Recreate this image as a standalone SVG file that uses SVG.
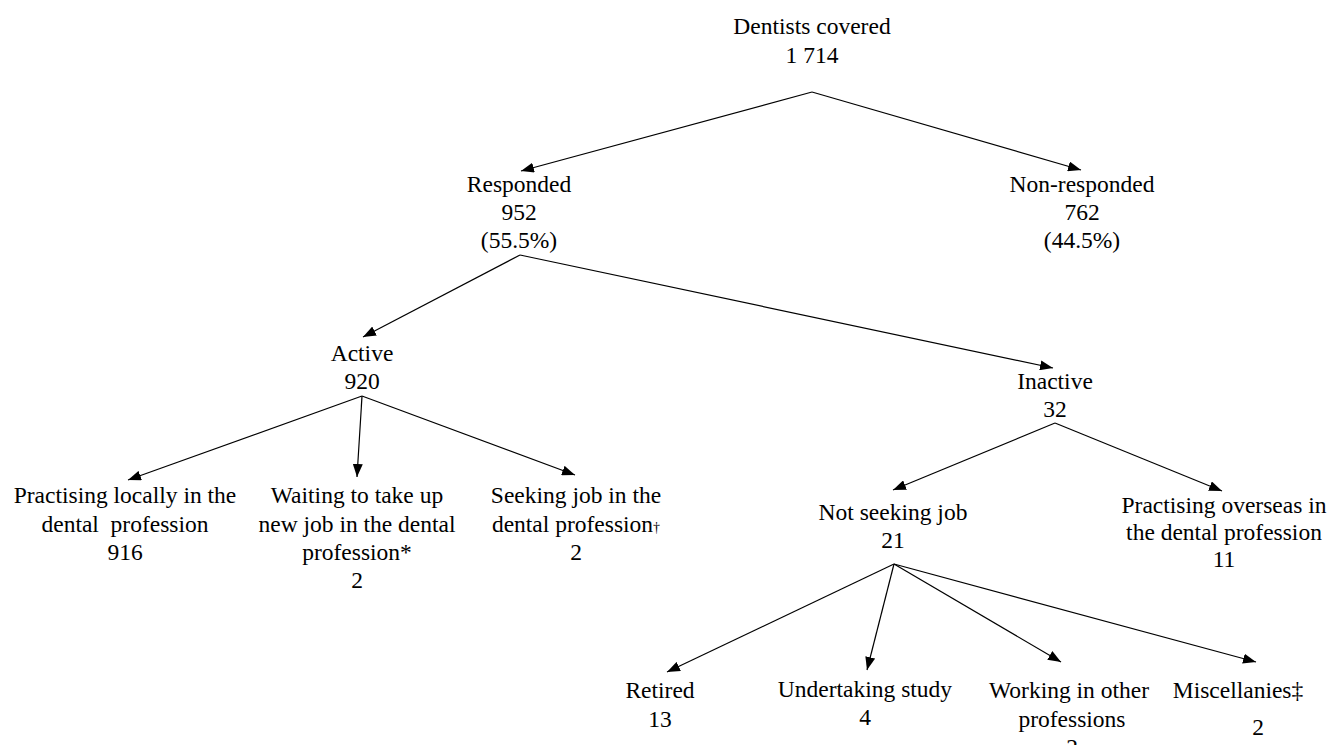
<svg xmlns="http://www.w3.org/2000/svg" width="1330" height="745" viewBox="0 0 1330 745">
<style>
.t text{font-size:23.5px;fill:#000;text-anchor:middle}
.c line{stroke:#000;stroke-width:1.2;fill:none;marker-end:url(#ah)}
</style>
<defs>
<marker id="ah" markerUnits="userSpaceOnUse" markerWidth="14" markerHeight="10" refX="13" refY="5" orient="auto">
<path d="M0,0 L13,5 L0,10 z" fill="#000"/>
</marker>
</defs>
<rect width="1330" height="745" fill="#fff"/>
<g class="c" id="connectors">
<line x1="812" y1="92" x2="521" y2="171"/>
<line x1="812" y1="92" x2="1081" y2="170"/>
<line x1="520" y1="255" x2="363" y2="337"/>
<line x1="520" y1="255" x2="1053" y2="368"/>
<line x1="362" y1="396" x2="128" y2="480"/>
<line x1="362" y1="396" x2="357" y2="477"/>
<line x1="362" y1="396" x2="575" y2="475"/>
<line x1="1055" y1="423" x2="893" y2="490"/>
<line x1="1055" y1="423" x2="1222" y2="491"/>
<line x1="894" y1="564" x2="667" y2="672"/>
<line x1="894" y1="564" x2="867" y2="670"/>
<line x1="894" y1="564" x2="1061" y2="662"/>
<line x1="894" y1="564" x2="1256" y2="662"/>
</g>
<g class="t" font-family="Liberation Serif, Tinos, Times New Roman, DejaVu Serif, serif">
<g id="dentists"><text x="812" y="34">Dentists covered</text><text x="812" y="63">1 714</text></g>
<g id="responded"><text x="519" y="192">Responded</text><text x="519" y="220">952</text><text x="519" y="248">(55.5%)</text></g>
<g id="nonresponded"><text x="1082" y="192">Non-responded</text><text x="1082" y="220">762</text><text x="1082" y="248">(44.5%)</text></g>
<g id="active"><text x="362" y="361">Active</text><text x="362" y="389">920</text></g>
<g id="inactive"><text x="1055" y="389">Inactive</text><text x="1055" y="417">32</text></g>
<g id="practising-local"><text x="125" y="503">Practising locally in the</text><text x="125" y="532" xml:space="preserve">dental  profession</text><text x="125" y="560">916</text></g>
<g id="waiting"><text x="357" y="503">Waiting to take up</text><text x="357" y="532">new job in the dental</text><text x="357" y="560">profession*</text><text x="357" y="588">2</text></g>
<g id="seeking"><text x="576" y="503">Seeking job in the</text><text x="576" y="532">dental profession<tspan font-size="14">†</tspan></text><text x="576" y="560">2</text></g>
<g id="not-seeking"><text x="893" y="520">Not seeking job</text><text x="893" y="548">21</text></g>
<g id="overseas"><text x="1224" y="513">Practising overseas in</text><text x="1224" y="540">the dental profession</text><text x="1224" y="567">11</text></g>
<g id="retired"><text x="660" y="698">Retired</text><text x="660" y="727">13</text></g>
<g id="study"><text x="865" y="697">Undertaking study</text><text x="865" y="725">4</text></g>
<g id="working"><text x="1069" y="698">Working in other</text><text x="1072" y="727">professions</text><text x="1072" y="755">2</text></g>
<g id="misc"><text x="1238" y="698">Miscellanies‡</text><text x="1258" y="735">2</text></g>
</g>
</svg>
